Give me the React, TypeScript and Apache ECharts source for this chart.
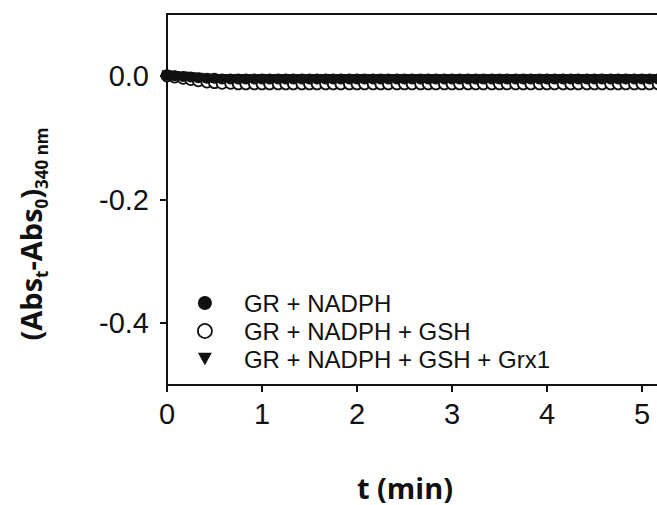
import React, { useEffect, useRef } from "react";
import * as echarts from "echarts";

const times = [
  0, 0.08, 0.17, 0.25, 0.33, 0.42, 0.5, 0.58, 0.67, 0.75, 0.83, 0.92,
  1, 1.08, 1.17, 1.25, 1.33, 1.42, 1.5, 1.58, 1.67, 1.75, 1.83, 1.92,
  2, 2.08, 2.17, 2.25, 2.33, 2.42, 2.5, 2.58, 2.67, 2.75, 2.83, 2.92,
  3, 3.08, 3.17, 3.25, 3.33, 3.42, 3.5, 3.58, 3.67, 3.75, 3.83, 3.92,
  4, 4.08, 4.17, 4.25, 4.33, 4.42, 4.5, 4.58, 4.67, 4.75, 4.83, 4.92,
  5, 5.08, 5.17, 5.25,
];

const grNadph = [
  0.001, 0.0, -0.001, -0.002, -0.003, -0.004, -0.004, -0.005, -0.005, -0.005, -0.005, -0.005,
  -0.005, -0.005, -0.005, -0.005, -0.005, -0.005, -0.005, -0.005, -0.005, -0.005, -0.005, -0.005,
  -0.005, -0.005, -0.005, -0.005, -0.005, -0.005, -0.005, -0.005, -0.005, -0.005, -0.005, -0.005,
  -0.005, -0.005, -0.005, -0.005, -0.005, -0.005, -0.005, -0.005, -0.005, -0.005, -0.005, -0.005,
  -0.005, -0.005, -0.005, -0.005, -0.005, -0.005, -0.005, -0.005, -0.005, -0.005, -0.005, -0.005,
  -0.005, -0.005, -0.005, -0.005,
];

const grNadphGsh = [
  0.0, -0.002, -0.004, -0.006, -0.008, -0.010, -0.011, -0.012, -0.012, -0.013, -0.013, -0.013,
  -0.013, -0.013, -0.013, -0.013, -0.013, -0.013, -0.013, -0.013, -0.013, -0.013, -0.013, -0.013,
  -0.013, -0.013, -0.013, -0.013, -0.013, -0.013, -0.013, -0.013, -0.013, -0.013, -0.013, -0.013,
  -0.013, -0.013, -0.013, -0.013, -0.013, -0.013, -0.013, -0.013, -0.013, -0.013, -0.013, -0.013,
  -0.013, -0.013, -0.013, -0.013, -0.013, -0.013, -0.013, -0.013, -0.013, -0.013, -0.013, -0.013,
  -0.013, -0.013, -0.013, -0.013,
];

const grNadphGshGrx1 = [
  0.0, -0.001, -0.002, -0.003, -0.004, -0.005, -0.006, -0.006, -0.006, -0.006, -0.006, -0.006,
  -0.006, -0.006, -0.006, -0.006, -0.006, -0.006, -0.006, -0.006, -0.006, -0.006, -0.006, -0.006,
  -0.006, -0.006, -0.006, -0.006, -0.006, -0.006, -0.006, -0.006, -0.006, -0.006, -0.006, -0.006,
  -0.006, -0.006, -0.006, -0.006, -0.006, -0.006, -0.006, -0.006, -0.006, -0.006, -0.006, -0.006,
  -0.006, -0.006, -0.006, -0.006, -0.006, -0.006, -0.006, -0.006, -0.006, -0.006, -0.006, -0.006,
  -0.006, -0.006, -0.006, -0.006,
];

const seriesNames = ["GR + NADPH", "GR + NADPH + GSH", "GR + NADPH + GSH + Grx1"];
const xTicks = [0, 1, 2, 3, 4, 5];
const yTicks = [0, -0.2, -0.4];

const pair = (ys: number[]) => times.map((t, i) => [t, ys[i]]);
const TRI = "path://M0,0 L10,0 L5,9 Z";

export default function App() {
  const ref = useRef<HTMLDivElement>(null);
  useEffect(() => {
    if (!ref.current) return;
    const chart = echarts.init(ref.current, null, { renderer: "svg" });
    const tickFont = { fontFamily: "Liberation Sans", fontSize: 29, color: "#111" };
    chart.setOption({
      animation: false,
      grid: {
        left: 167,
        top: 14,
        right: 0,
        height: 371,
        show: false,
        containLabel: false,
      },
      xAxis: [
        {
          type: "value",
          min: 0,
          max: 5.158,
          splitLine: { show: false },
          axisLine: { show: true, onZero: false, lineStyle: { color: "#111", width: 2 } },
          axisTick: { show: true, inside: false, length: 7, lineStyle: { color: "#111", width: 2 }, customValues: xTicks },
          axisLabel: { ...tickFont, margin: 14, customValues: xTicks, formatter: (v: number) => String(v) },
        },
        {
          type: "value",
          position: "top",
          min: 0,
          max: 5.158,
          splitLine: { show: false },
          axisLine: { show: true, onZero: false, lineStyle: { color: "#111", width: 2 } },
          axisTick: { show: false },
          axisLabel: { show: false },
        },
      ],
      yAxis: {
        type: "value",
        min: -0.5,
        max: 0.1,
        splitLine: { show: false },
        axisLine: { show: true, onZero: false, lineStyle: { color: "#111", width: 2 } },
        axisTick: { show: true, inside: false, length: 7, lineStyle: { color: "#111", width: 2 }, customValues: yTicks },
        axisLabel: { ...tickFont, margin: 18, customValues: yTicks, formatter: (v: number) => v.toFixed(1) },
      },
      legend: {
        orient: "vertical",
        left: 192,
        top: 286,
        itemWidth: 14,
        itemHeight: 14,
        itemGap: 4,
        selectedMode: false,
        textStyle: { fontFamily: "Liberation Sans", fontSize: 24, color: "#111", lineHeight: 22, padding: [0, 0, 0, 27] },
        data: [
          { name: seriesNames[0], icon: "circle", itemStyle: { color: "#111", borderWidth: 0 } },
          { name: seriesNames[1], icon: "circle", itemStyle: { color: "#fff", borderColor: "#111", borderWidth: 1.8 } },
          { name: seriesNames[2], icon: TRI, itemStyle: { color: "#111", borderWidth: 0 } },
        ],
      },
      series: [
        {
          name: seriesNames[1],
          type: "scatter",
          clip: false,
          data: pair(grNadphGsh),
          symbol: "circle",
          symbolSize: 11,
          itemStyle: { color: "#fff", borderColor: "#111", borderWidth: 1.8, opacity: 1 },
          z: 2,
        },
        {
          name: seriesNames[0],
          type: "scatter",
          clip: false,
          data: pair(grNadph),
          symbol: "circle",
          symbolSize: 11,
          itemStyle: { color: "#111", opacity: 1 },
          z: 3,
        },
        {
          name: seriesNames[2],
          type: "scatter",
          clip: false,
          data: pair(grNadphGshGrx1),
          symbol: TRI,
          symbolSize: 11,
          itemStyle: { color: "#111", opacity: 1 },
          z: 1,
        },
      ],
      graphic: [
        {
          type: "text",
          x: 405,
          y: 487,
          style: {
            text: "t (min)",
            font: "bold 29px 'Open Sans'",
            fill: "#111",
            align: "center",
            verticalAlign: "middle",
          },
        },
        {
          type: "text",
          x: 30,
          y: 234,
          rotation: Math.PI / 2,
          style: {
            text: "(Abs{s|t}-Abs{s|0}){s|340 nm}",
            fontFamily: "Open Sans",
            fontWeight: "bold",
            fontSize: 29,
            lineHeight: 40,
            fill: "#111",
            align: "center",
            verticalAlign: "middle",
            rich: {
              s: { fontFamily: "Open Sans", fontWeight: "bold", fontSize: 17, lineHeight: 12, verticalAlign: "bottom", fill: "#111" },
            },
          },
        },
      ],
    });
    return () => chart.dispose();
  }, []);
  return <div ref={ref} style={{ position: "absolute", left: 0, top: 0, width: 657, height: 505 }} />;
}
